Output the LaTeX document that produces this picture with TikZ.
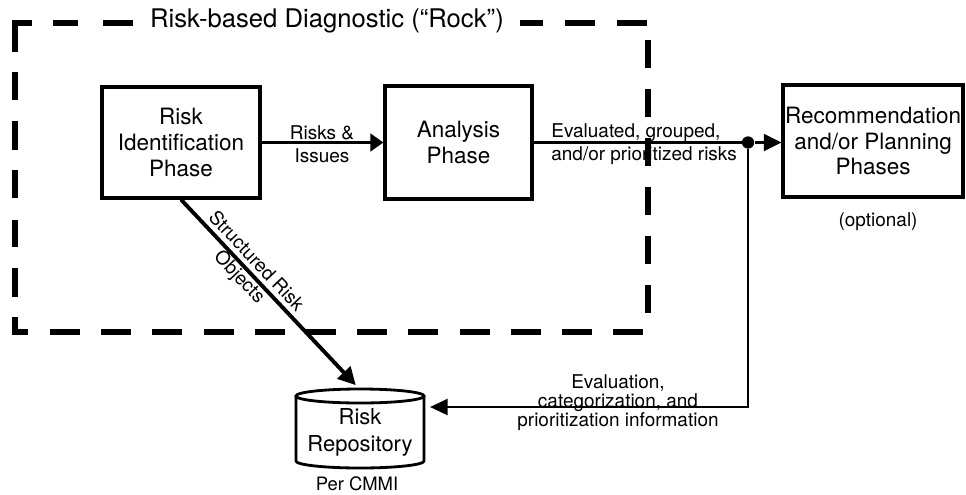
\documentclass[tikz,border=0pt]{standalone}
\usepackage{fontspec}
\setmainfont{TeX Gyre Heros}
\usetikzlibrary{arrows.meta}
\begin{document}
\begin{tikzpicture}[x=0.02cm,y=-0.02cm,
  box/.style={draw, line width=1.8pt, align=center, inner sep=0pt,
    font=\fontsize{12.8}{14.7}\selectfont},
  lbl/.style={align=center, inner sep=0pt, font=\fontsize{10.8}{13}\selectfont},
  conn/.style={line width=1.6pt},
  fdash/.style={line width=3.2pt, line cap=butt, line join=miter}]
\useasboundingbox (0,0) rectangle (966,494);

% dashed frame of the diagnostic
\draw[fdash] (32,23) -- (15,23) -- (15,52);
\foreach \a/\b in {53/78,103/133,520/543,565/595,617/647}
  \draw[fdash] (\a,23) -- (\b,23);
\foreach \a/\b in {72/100,121/150,170/198,220/247,268/297}
  \draw[fdash] (15,\a) -- (15,\b);
\draw[fdash] (15,317) -- (15,332) -- (28,332);
\foreach \i in {0,...,11}
  \draw[fdash] ({50+51.2*\i},332) -- ({80+51.2*\i},332);
\foreach \a in {40,89,138,187,236,285}
  \draw[fdash] (648,\a) -- (648,\a+28);
\node[inner sep=0pt, font=\fontsize{14.6}{16}\selectfont] (title) at (327,21)
  {Risk-based Diagnostic (“Rock”)};

% boxes
\node[box, minimum width=3.16cm, minimum height=2.22cm] (ri) at (181,142.5)
  {Risk\\Identification\\Phase};
\node[box, minimum width=2.94cm, minimum height=2.26cm] (an) at (458.5,142.5)
  {Analysis\\Phase};
\node[box, minimum width=3.6cm, minimum height=2.24cm] (rec) at (873,141)
  {Recommendation\\and/or Planning\\Phases};
\node[lbl] (opt) at (878,222) {(optional)};

% repository
\node[minimum width=2.56cm, minimum height=1.56cm, inner sep=0pt] (repo) at (360,429) {};
\draw[line width=1.6pt] (296,396) -- (296,461)
  arc[start angle=180, end angle=0, x radius=64, y radius=7] -- (424,396);
\draw[line width=1.6pt] (360,396) ellipse[x radius=64, y radius=7];
\node[align=center, inner sep=0pt, font=\fontsize{12.5}{15.3}\selectfont] (repotxt)
  at (360,432) {Risk\\Repository};
\node[lbl, font=\fontsize{10.5}{12}\selectfont] (cmmi) at (357,484) {Per CMMI};

% connectors
\node[circle, fill, inner sep=0pt, minimum size=7pt] (dot) at (748,142.5) {};
\coordinate (repoin) at (430,407);
\draw[conn, line width=2.2pt, -{Triangle[length=7.5pt,width=10pt]}]
  (ri.east) -- (an.west);
\node[lbl] (rilbl) at (322,144) {Risks \&\\Issues};
\draw[conn] (an.east) -- (dot);
\draw[conn, -{Triangle[length=10pt,width=9.5pt]}] (dot) -- (rec.west |- dot);
\node[lbl, anchor=west, align=left] (evlbl) at (551,144)
  {Evaluated, grouped,\\and/or prioritized risks};
\draw[conn, -{Triangle[length=10pt,width=9pt]}] (dot) |- (repoin);
\node[lbl, font=\fontsize{10.8}{10.8}\selectfont] (evinfo) at (618,403)
  {Evaluation,\\categorization, and\\prioritization information};
\draw[conn, line width=2.2pt, shorten >=3.5pt, -{Triangle[length=10pt,width=10pt]}]
  (ri.south) -- (repo.north)
  node[lbl, sloped, pos=0.37] (srolbl) {Structured Risk\\Objects};
\end{tikzpicture}
\end{document}
